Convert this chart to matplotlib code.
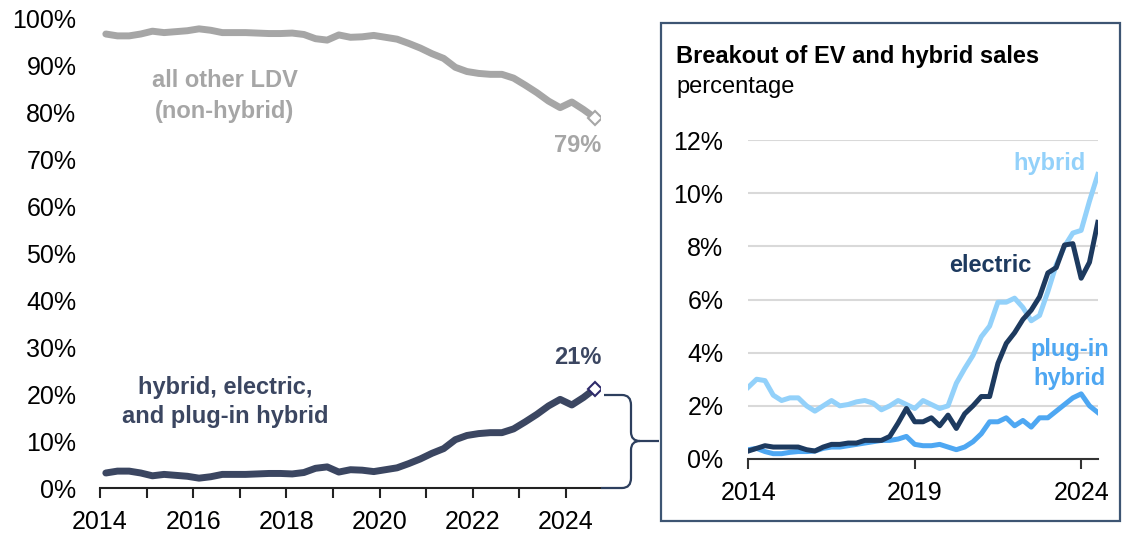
import numpy as np
import matplotlib
matplotlib.use("Agg")
import matplotlib.pyplot as plt
from matplotlib.path import Path
from matplotlib.patches import PathPatch, Rectangle
from matplotlib.ticker import FuncFormatter, MultipleLocator

plt.rcParams['font.family'] = ['Liberation Sans', 'DejaVu Sans']

# quarterly shares of US light-duty vehicle sales, 2014Q1 .. 2024Q3 (%)
other_ldv = [96.8, 96.4, 96.4, 96.8, 97.4, 97.1, 97.3, 97.5,
             97.9, 97.6, 97.1, 97.1, 97.1, 97.0, 96.9, 96.9,
             97.0, 96.7, 95.8, 95.5, 96.6, 96.1, 96.2, 96.5,
             96.1, 95.7, 94.8, 93.8, 92.6, 91.6, 89.7, 88.8,
             88.4, 88.2, 88.2, 87.4, 85.9, 84.3, 82.5, 81.1,
             82.3, 80.7, 78.9]
hev_ev_phev = [3.2, 3.6, 3.6, 3.2, 2.6, 2.9, 2.7, 2.5,
               2.1, 2.4, 2.9, 2.9, 2.9, 3.0, 3.1, 3.1,
               3.0, 3.3, 4.2, 4.5, 3.4, 3.9, 3.8, 3.5,
               3.9, 4.3, 5.2, 6.2, 7.4, 8.4, 10.3, 11.2,
               11.6, 11.8, 11.8, 12.6, 14.1, 15.7, 17.5, 18.9,
               17.7, 19.3, 21.2]

# breakout, 2014Q1 .. 2024Q3 (%)
hybrid = [2.7, 3.0, 2.95, 2.4, 2.2, 2.3, 2.3, 2.0,
          1.8, 2.0, 2.2, 2.0, 2.05, 2.15, 2.2, 2.1,
          1.85, 2.0, 2.2, 2.05, 1.9, 2.2, 2.05, 1.9,
          2.0, 2.85, 3.4, 3.9, 4.6, 5.0, 5.9, 5.9,
          6.05, 5.7, 5.2, 5.4, 6.3, 7.3, 8.0, 8.5,
          8.6, 9.7, 10.7]
electric = [0.3, 0.4, 0.5, 0.45, 0.45, 0.45, 0.45, 0.35,
            0.3, 0.45, 0.55, 0.55, 0.6, 0.6, 0.7, 0.7,
            0.7, 0.85, 1.35, 1.9, 1.4, 1.4, 1.55, 1.25,
            1.65, 1.15, 1.7, 2.0, 2.35, 2.35, 3.6, 4.35,
            4.75, 5.25, 5.6, 6.1, 7.0, 7.2, 8.05, 8.1,
            6.8, 7.4, 8.9]
plugin = [0.35, 0.4, 0.28, 0.2, 0.2, 0.25, 0.28, 0.28,
          0.3, 0.4, 0.45, 0.45, 0.5, 0.55, 0.6, 0.65,
          0.7, 0.7, 0.75, 0.85, 0.55, 0.5, 0.5, 0.55,
          0.45, 0.35, 0.45, 0.65, 0.95, 1.4, 1.4, 1.55,
          1.25, 1.45, 1.2, 1.55, 1.55, 1.8, 2.05, 2.3,
          2.45, 2.0, 1.75]

quarters = 2014 + 0.25 * np.arange(len(hybrid))

GRAY = '#a6a6a6'
SLATE = '#3b4661'
NAVY = '#1d3a5f'
LIGHT = '#93d1fa'
MID = '#4ea7f2'
BOX = '#3d5573'

W, H = 1125, 537
fig = plt.figure(figsize=(W / 100, H / 100), dpi=100)


def fx(px):
    return px / W


def fy(py):
    return 1 - py / H


pct = FuncFormatter(lambda v, p: f'{v:.0f}%')

# ---- left panel ----
ax = fig.add_axes([fx(100), fy(488), fx(600) - fx(100), fy(19) - fy(488)])
xl = quarters + 0.125
ax.plot(xl, other_ldv, color=GRAY, lw=5, solid_capstyle='round', solid_joinstyle='round')
ax.plot(xl, hev_ev_phev, color=SLATE, lw=5, solid_capstyle='round', solid_joinstyle='round')
ax.plot(xl[-1], other_ldv[-1], 'D', ms=7, mfc='white', mec=GRAY, mew=1.5)
ax.plot(xl[-1], hev_ev_phev[-1], 'D', ms=7, mfc='white', mec='#2e2a6a', mew=1.5)
ax.set_xlim(2014, 2024.73)
ax.set_ylim(0, 100)
ax.yaxis.set_major_locator(MultipleLocator(10))
ax.yaxis.set_major_formatter(pct)
ax.set_xticks(range(2014, 2025, 2))
ax.set_xticks(range(2014, 2025), minor=True)
for s in ['top', 'right', 'left']:
    ax.spines[s].set_visible(False)
ax.spines['bottom'].set_color('#222222')
ax.spines['bottom'].set_linewidth(1.5)
ax.tick_params(axis='y', length=0, pad=17, labelsize=18)
ax.tick_params(axis='x', which='both', length=7, width=1.5, color='#222222', pad=9, labelsize=18)

ax.text(2016.68, 83.6, 'all other LDV\n(non-hybrid)', color=GRAY, fontsize=17,
        fontweight='bold', ha='center', va='center', linespacing=1.4)
ax.text(2016.68, 18.3, 'hybrid, electric,\nand plug-in hybrid', color=SLATE, fontsize=17,
        fontweight='bold', ha='center', va='center', linespacing=1.3)
ax.text(2024.24, 73.1, '79%', color=GRAY, fontsize=17, fontweight='bold', ha='center', va='center')
ax.text(2024.26, 27.9, '21%', color=SLATE, fontsize=17, fontweight='bold', ha='center', va='center')

# ---- box around the breakout ----
fig.patches.append(Rectangle((fx(661), fy(521)), fx(1120) - fx(661), fy(23) - fy(521),
                             transform=fig.transFigure, fill=False, ec=BOX, lw=1.6))
fig.text(fx(676), fy(56), 'Breakout of EV and hybrid sales', fontsize=17,
         fontweight='bold', ha='left', va='center')
fig.text(fx(676), fy(87), 'percentage', fontsize=17, ha='left', va='center')

# curly bracket linking the two panels
brace = [(604, 395), (622, 395), (631, 395), (631, 405), (631, 432),
         (631, 441), (640, 441), (659, 441), (640, 441), (631, 441),
         (631, 450), (631, 478), (631, 488), (622, 488), (601, 488)]
codes = [Path.MOVETO, Path.LINETO, Path.CURVE3, Path.CURVE3, Path.LINETO,
         Path.CURVE3, Path.CURVE3, Path.LINETO, Path.MOVETO, Path.CURVE3,
         Path.CURVE3, Path.LINETO, Path.CURVE3, Path.CURVE3, Path.LINETO]
fig.patches.append(PathPatch(Path([(fx(a), fy(b)) for a, b in brace], codes),
                             transform=fig.transFigure, fill=False, ec='#2d3f5e', lw=1.6))

# ---- right panel ----
ax2 = fig.add_axes([fx(748.3), fy(459), fx(1097.8) - fx(748.3), fy(140) - fy(459)])
ax2.plot(quarters, hybrid, color=LIGHT, lw=3.6, solid_joinstyle='round')
ax2.plot(quarters, plugin, color=MID, lw=3.6, solid_joinstyle='round')
ax2.plot(quarters, electric, color=NAVY, lw=3.6, solid_joinstyle='round')
ax2.set_xlim(2014, 2024.5)
ax2.set_ylim(0, 12)
ax2.set_yticks(range(0, 13, 2))
ax2.yaxis.set_major_formatter(pct)
ax2.set_xticks([2014, 2019, 2024])
ax2.grid(axis='y', color='#d9d9d9', lw=1.5)
ax2.set_axisbelow(True)
for s in ['top', 'right', 'left']:
    ax2.spines[s].set_visible(False)
ax2.spines['bottom'].set_color('#333333')
ax2.spines['bottom'].set_linewidth(1.5)
ax2.tick_params(axis='y', length=0, pad=18, labelsize=18)
ax2.tick_params(axis='x', length=7, width=1.5, color='#333333', pad=9, labelsize=18)

ax2.text(2023.06, 11.13, 'hybrid', color=LIGHT, fontsize=17, fontweight='bold', ha='center', va='center')
ax2.text(2021.26, 7.29, 'electric', color=NAVY, fontsize=17, fontweight='bold', ha='center', va='center')
ax2.text(2023.66, 3.57, 'plug-in\nhybrid', color=MID, fontsize=17, fontweight='bold',
         ha='center', va='center', linespacing=1.35)

fig.savefig('out.png', dpi=100)
